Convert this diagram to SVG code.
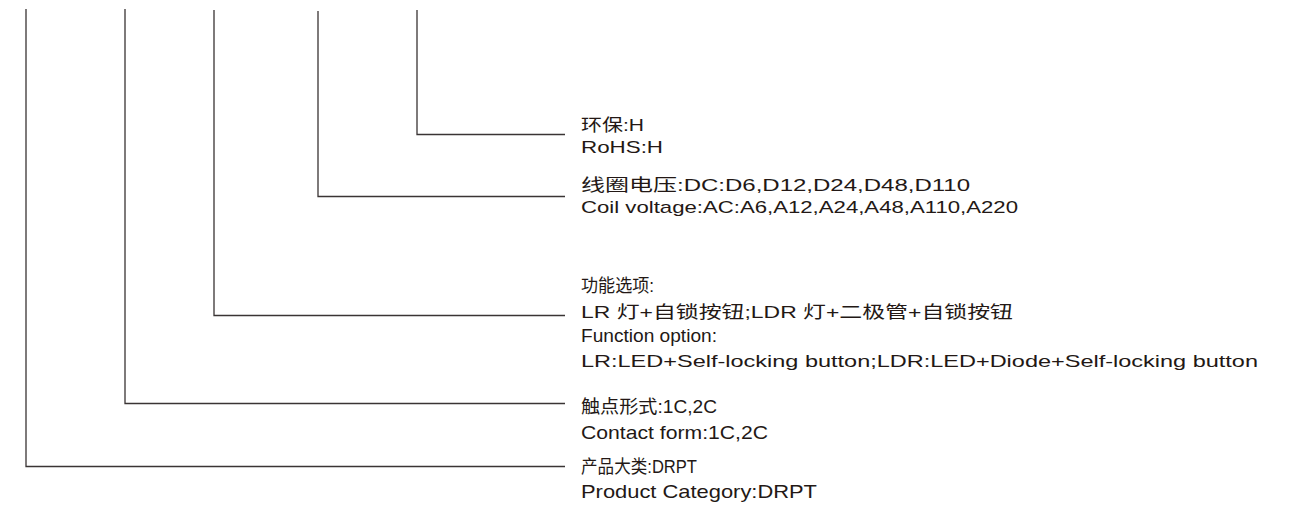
<svg xmlns="http://www.w3.org/2000/svg" width="1306" height="509" viewBox="0 0 1306 509">
<style>
.c{fill:none;stroke:#3a3434;stroke-width:1.3}
text{font-family:"Liberation Sans","Noto Sans CJK SC",sans-serif;font-size:17px;fill:#231815}
text.n{font-size:18.5px}
</style>
<rect width="1306" height="509" fill="#fff"/>
<g id="connectors">
<polyline class="c" points="26,9 26,466.5 565,466.5"/>
<polyline class="c" points="125,9 125,403.5 565,403.5"/>
<polyline class="c" points="214,10 214,315.5 565,315.5"/>
<polyline class="c" points="318,11 318,196.5 565,196.5"/>
<polyline class="c" points="417,10 417,134.5 565,134.5"/>
</g>
<g id="node-rohs">
<text x="581" y="131" textLength="63" lengthAdjust="spacingAndGlyphs">环保:H</text>
<text x="581" y="153" textLength="82" lengthAdjust="spacingAndGlyphs">RoHS:H</text>
</g>
<g id="node-coil">
<text x="581" y="191" textLength="389" lengthAdjust="spacingAndGlyphs">线圈电压:DC:D6,D12,D24,D48,D110</text>
<text x="581" y="213" textLength="437" lengthAdjust="spacingAndGlyphs">Coil voltage:AC:A6,A12,A24,A48,A110,A220</text>
</g>
<g id="node-function">
<text class="n" x="581" y="292" textLength="73" lengthAdjust="spacingAndGlyphs">功能选项:</text>
<text x="581" y="318" textLength="432" lengthAdjust="spacingAndGlyphs">LR 灯+自锁按钮;LDR 灯+二极管+自锁按钮</text>
<text class="n" x="581" y="342" textLength="136" lengthAdjust="spacingAndGlyphs">Function option:</text>
<text x="581" y="367" textLength="677" lengthAdjust="spacingAndGlyphs">LR:LED+Self-locking button;LDR:LED+Diode+Self-locking button</text>
</g>
<g id="node-contact">
<text class="n" x="581" y="413" textLength="136" lengthAdjust="spacingAndGlyphs">触点形式:1C,2C</text>
<text class="n" x="581" y="439" textLength="187" lengthAdjust="spacingAndGlyphs">Contact form:1C,2C</text>
</g>
<g id="node-category">
<text class="n" x="581" y="473" textLength="116" lengthAdjust="spacingAndGlyphs">产品大类:DRPT</text>
<text class="n" x="581" y="498" textLength="236" lengthAdjust="spacingAndGlyphs">Product Category:DRPT</text>
</g>
</svg>
